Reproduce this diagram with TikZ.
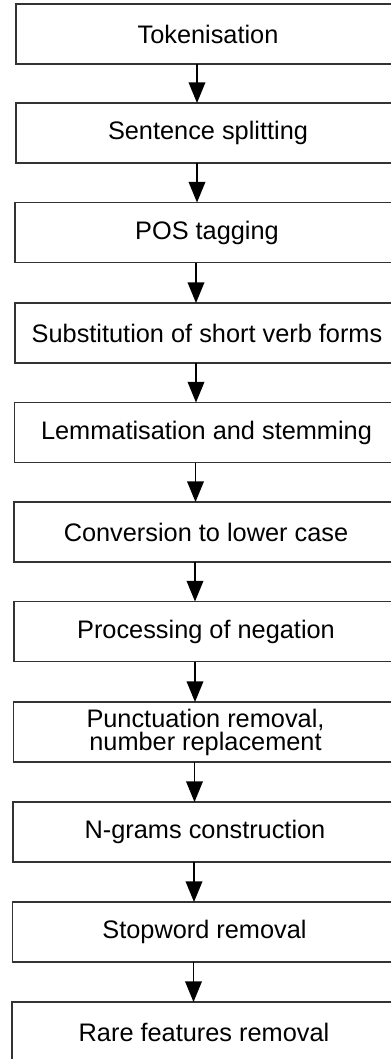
\documentclass[tikz,border=0pt]{standalone}
\usepackage{fontspec}
\setmainfont{Liberation Sans}
\usetikzlibrary{arrows.meta}
\begin{document}
\begin{tikzpicture}[x=0.75pt,y=-0.75pt,
  stepbox/.style={draw=black!80, line width=1.2pt, fill=white, anchor=north west,
    minimum width=288pt, minimum height=45pt, inner sep=0pt, outer sep=0pt,
    align=center, font=\fontsize{19}{15.5}\selectfont},
  arr/.style={line width=1.1pt, -{Triangle[length=15.5pt,width=12.5pt]}}]
\useasboundingbox (0,0) rectangle (390,1059);
\node[stepbox] (b1) at (16,4) {Tokenisation};
\node[stepbox] (b2) at (16,103) {Sentence splitting};
\node[stepbox] (b3) at (15,202.5) {POS tagging};
\node[stepbox] (b4) at (15,303) {Substitution of short verb forms};
\node[stepbox] (b5) at (14.5,402.5) {Lemmatisation and stemming};
\node[stepbox] (b6) at (14,502) {Conversion to lower case};
\node[stepbox] (b7) at (14,601.5) {Processing of negation};
\node[stepbox] (b8) at (13.5,702) {Punctuation removal,\\number replacement};
\node[stepbox] (b9) at (13,802) {N-grams construction};
\node[stepbox] (b10) at (12.5,902) {Stopword removal};
\node[stepbox] (b11) at (12,1002) {Rare features removal};
\foreach \a/\b in {b1/b2,b2/b3,b3/b4,b4/b5,b5/b6,b6/b7,b7/b8,b8/b9,b9/b10,b10/b11}{
  \draw[arr] ([xshift=-8.25pt]\a.south) -- ([xshift=-8.25pt]\a.south |- \b.north);
}
\end{tikzpicture}
\end{document}
